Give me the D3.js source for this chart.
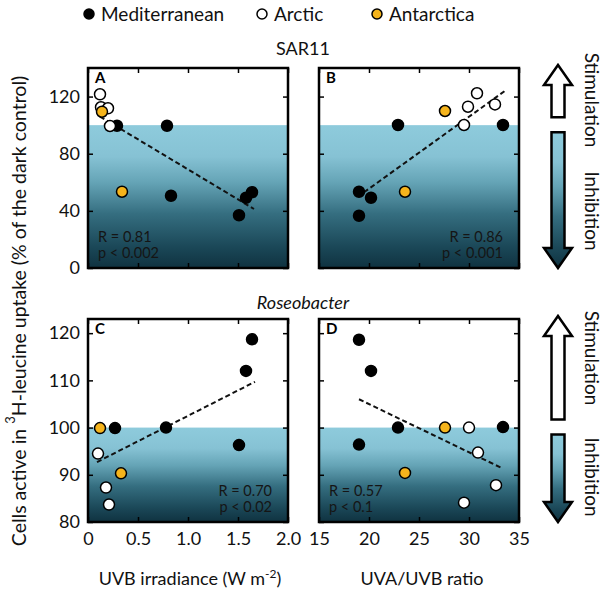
<!DOCTYPE html>
<html>
<head>
<meta charset="utf-8" />
<title>SAR11 / Roseobacter UV response</title>
<script src="https://d3js.org/d3.v7.min.js"></script>
<style>
  body { margin: 0; background: #fff; }
  svg { font-family: Lato, "Open Sans", sans-serif; }
  .tick text { font-size: 18px; fill: #111; }
</style>
</head>
<body>
<svg id="chart" width="611" height="598"></svg>
<script>
// groups in the legend
var groups = ["Mediterranean", "Arctic", "Antarctica"];

// SAR11 vs UVB irradiance
var panelA = [
  {g: "Mediterranean", x: 0.29, y: 99.6},
  {g: "Mediterranean", x: 0.79, y: 99.6},
  {g: "Mediterranean", x: 0.83, y: 50.6},
  {g: "Mediterranean", x: 1.51, y: 36.9},
  {g: "Mediterranean", x: 1.58, y: 49.2},
  {g: "Mediterranean", x: 1.64, y: 53.0},
  {g: "Arctic", x: 0.12, y: 121.6},
  {g: "Arctic", x: 0.13, y: 112.5},
  {g: "Arctic", x: 0.20, y: 111.8},
  {g: "Arctic", x: 0.22, y: 99.4},
  {g: "Antarctica", x: 0.14, y: 109.4},
  {g: "Antarctica", x: 0.34, y: 53.4}
];
// SAR11 vs UVA/UVB ratio
var panelB = [
  {g: "Mediterranean", x: 22.9, y: 100.1},
  {g: "Mediterranean", x: 19.0, y: 53.4},
  {g: "Mediterranean", x: 20.2, y: 49.2},
  {g: "Mediterranean", x: 19.0, y: 36.6},
  {g: "Mediterranean", x: 33.4, y: 100.1},
  {g: "Arctic", x: 30.8, y: 122.3},
  {g: "Arctic", x: 29.9, y: 112.9},
  {g: "Arctic", x: 29.5, y: 100.1},
  {g: "Arctic", x: 32.6, y: 114.5},
  {g: "Antarctica", x: 27.6, y: 109.9},
  {g: "Antarctica", x: 23.6, y: 53.4}
];
// Roseobacter vs UVB irradiance
var panelC = [
  {g: "Mediterranean", x: 1.64, y: 118.7},
  {g: "Mediterranean", x: 1.58, y: 112.0},
  {g: "Mediterranean", x: 1.51, y: 96.3},
  {g: "Mediterranean", x: 0.78, y: 100.0},
  {g: "Mediterranean", x: 0.27, y: 99.9},
  {g: "Arctic", x: 0.10, y: 94.5},
  {g: "Arctic", x: 0.18, y: 87.3},
  {g: "Arctic", x: 0.21, y: 83.7},
  {g: "Antarctica", x: 0.12, y: 99.9},
  {g: "Antarctica", x: 0.33, y: 90.3}
];
// Roseobacter vs UVA/UVB ratio
var panelD = [
  {g: "Mediterranean", x: 19.0, y: 118.6},
  {g: "Mediterranean", x: 20.2, y: 112.0},
  {g: "Mediterranean", x: 22.9, y: 100.0},
  {g: "Mediterranean", x: 19.0, y: 96.4},
  {g: "Mediterranean", x: 33.4, y: 100.1},
  {g: "Arctic", x: 30.0, y: 100.0},
  {g: "Arctic", x: 30.9, y: 94.7},
  {g: "Arctic", x: 29.5, y: 84.1},
  {g: "Arctic", x: 32.7, y: 87.8},
  {g: "Antarctica", x: 27.6, y: 100.0},
  {g: "Antarctica", x: 23.6, y: 90.4}
];

// regression line end points
var trendA = [[0.12, 106.0], [1.66, 41.3]];
var trendB = [[19.5, 53.0], [33.6, 124.0]];
var trendC = [[0.09, 92.7], [1.67, 109.7]];
var trendD = [[19.0, 106.0], [33.4, 91.3]];

var statsA = ["R = 0.81", "p < 0.002"];
var statsB = ["R = 0.86", "p < 0.001"];
var statsC = ["R = 0.70", "p < 0.02"];
var statsD = ["R = 0.57", "p < 0.1"];

// ticks
var uvbTicks = [0, 0.5, 1.0, 1.5, 2.0];
var ratioTicks = [15, 20, 25, 30, 35];
var sarTicks = [0, 40, 80, 120];
var roseoTicks = [80, 90, 100, 110, 120];

var svg = d3.select("#chart");

var fill = d3.scaleOrdinal().domain(groups).range(["#000", "#fff", "#f5b41c"]);

// gradient for the inhibition zone
var defs = svg.append("defs");
var grad = defs.append("linearGradient").attr("id", "shade")
  .attr("x1", 0).attr("y1", 0).attr("x2", 0).attr("y2", 1);
[[0, "#8ecbdc"], [0.22, "#86c2d4"], [0.4, "#65a4b6"], [0.62, "#356e80"], [0.85, "#1b4858"], [1, "#0f3240"]]
  .forEach(function(s) {
    grad.append("stop").attr("offset", s[0]).attr("stop-color", s[1]);
  });

var panels = [
  {id: "A", x0: 88, y0: 68, w: 200, h: 200, xd: [0, 2], yd: [0, 140], xt: uvbTicks, yt: sarTicks,
   data: panelA, trend: trendA, stats: statsA, statsLeft: true, left: true, bottom: false},
  {id: "B", x0: 319, y0: 68, w: 200, h: 200, xd: [15, 35], yd: [0, 140], xt: ratioTicks, yt: sarTicks,
   data: panelB, trend: trendB, stats: statsB, statsLeft: false, left: false, bottom: false},
  {id: "C", x0: 88, y0: 319, w: 200, h: 203, xd: [0, 2], yd: [80, 123], xt: uvbTicks, yt: roseoTicks,
   data: panelC, trend: trendC, stats: statsC, statsLeft: false, left: true, bottom: true},
  {id: "D", x0: 319, y0: 319, w: 200, h: 203, xd: [15, 35], yd: [80, 123], xt: ratioTicks, yt: roseoTicks,
   data: panelD, trend: trendD, stats: statsD, statsLeft: true, left: false, bottom: true}
];

panels.forEach(function(p) {
  var x = d3.scaleLinear().domain(p.xd).range([p.x0, p.x0 + p.w]);
  var y = d3.scaleLinear().domain(p.yd).range([p.y0 + p.h, p.y0]);
  p.x = x; p.y = y;
  var g = svg.append("g");

  // shaded zone under 100 %
  g.append("rect")
    .attr("x", p.x0).attr("y", y(100))
    .attr("width", p.w).attr("height", p.y0 + p.h - y(100))
    .attr("fill", "url(#shade)");

  g.append("path")
    .attr("d", d3.line().x(function(d) { return x(d[0]); }).y(function(d) { return y(d[1]); })(p.trend))
    .attr("fill", "none").attr("stroke", "#111")
    .attr("stroke-width", 2).attr("stroke-dasharray", "5,3");

  g.selectAll("circle").data(p.data).enter().append("circle")
    .attr("cx", function(d) { return x(d.x); })
    .attr("cy", function(d) { return y(d.y); })
    .attr("r", 5.5)
    .attr("fill", function(d) { return fill(d.g); })
    .attr("stroke", "#000").attr("stroke-width", 1.5);

  // ticks on all four sides, pointing inward
  var fmt = function(d) { return p.xd[0] === 0 ? (d === 0 ? "0" : d3.format(".1f")(d)) : d; };
  g.append("g").attr("transform", "translate(0," + (p.y0 + p.h) + ")")
    .call(d3.axisBottom(x).tickValues(p.xt).tickSize(-5).tickSizeOuter(0).tickPadding(10)
      .tickFormat(p.bottom ? fmt : ""));
  g.append("g").attr("transform", "translate(0," + p.y0 + ")")
    .call(d3.axisTop(x).tickValues(p.xt).tickSize(-5).tickSizeOuter(0).tickFormat(""));
  g.append("g").attr("transform", "translate(" + p.x0 + ",0)")
    .call(d3.axisLeft(y).tickValues(p.yt).tickSize(-5).tickSizeOuter(0).tickPadding(8)
      .tickFormat(p.left ? d3.format("d") : ""));
  g.append("g").attr("transform", "translate(" + (p.x0 + p.w) + ",0)")
    .call(d3.axisRight(y).tickValues(p.yt).tickSize(-5).tickSizeOuter(0).tickFormat(""));
  g.selectAll(".domain").remove();
  g.selectAll(".tick line").attr("stroke", "#000").attr("stroke-width", 1.5);
  g.selectAll(".tick text").style("font-family", "Lato, sans-serif");

  g.append("rect")
    .attr("x", p.x0).attr("y", p.y0).attr("width", p.w).attr("height", p.h)
    .attr("fill", "none").attr("stroke", "#000").attr("stroke-width", 2.5);

  g.append("text")
    .attr("x", p.x0 + 7).attr("y", p.y0 + 15)
    .attr("font-size", 15).attr("font-weight", "bold")
    .text(p.id);

  g.selectAll("text.stat").data(p.stats).enter().append("text")
    .attr("class", "stat")
    .attr("x", p.statsLeft ? p.x0 + 10 : p.x0 + p.w - 16)
    .attr("y", function(d, i) { return p.y0 + p.h - 26 + i * 16; })
    .attr("text-anchor", p.statsLeft ? "start" : "end")
    .attr("font-size", 14.5).attr("fill", "#151515")
    .text(function(d) { return d; });
});

// legend
var legX = [89, 262, 377];
groups.forEach(function(gname, i) {
  svg.append("circle").attr("cx", legX[i]).attr("cy", 14).attr("r", 5)
    .attr("fill", fill(gname)).attr("stroke", "#000").attr("stroke-width", 1.5);
  svg.append("text").attr("x", legX[i] + 12).attr("y", 21)
    .attr("font-size", 19).attr("fill", "#111").text(gname);
});

svg.append("text").attr("x", 303).attr("y", 55).attr("text-anchor", "middle")
  .attr("font-size", 18).attr("fill", "#111").text("SAR11");
svg.append("text").attr("x", 303).attr("y", 309).attr("text-anchor", "middle")
  .attr("font-size", 18).attr("font-style", "italic").attr("fill", "#111").text("Roseobacter");

// y label
var yl = svg.append("text")
  .attr("transform", "translate(18,311) rotate(-90)")
  .attr("text-anchor", "middle").attr("dominant-baseline", "central")
  .attr("font-size", 19.5).attr("fill", "#111");
yl.append("tspan").text("Cells active in ");
yl.append("tspan").attr("baseline-shift", "super").attr("font-size", 13).text("3");
yl.append("tspan").text("H-leucine uptake (% of the dark control)");

// x labels
var xl = svg.append("text").attr("x", 190).attr("y", 585).attr("text-anchor", "middle")
  .attr("font-size", 18).attr("fill", "#111");
xl.append("tspan").text("UVB irradiance (W m");
xl.append("tspan").attr("baseline-shift", "super").attr("font-size", 12).text("-2");
xl.append("tspan").text(")");
svg.append("text").attr("x", 422).attr("y", 585).attr("text-anchor", "middle")
  .attr("font-size", 18).attr("fill", "#111").text("UVA/UVB ratio");

// stimulation / inhibition arrows beside each row
function arrowPath(cx, tip, end, up) {
  var hw = 14, sw = 6.5, hl = 20 * (up ? 1 : -1);
  var b = tip + hl;
  return "M" + cx + "," + tip + "L" + (cx + hw) + "," + b + "L" + (cx + sw) + "," + b +
    "L" + (cx + sw) + "," + end + "L" + (cx - sw) + "," + end + "L" + (cx - sw) + "," + b +
    "L" + (cx - hw) + "," + b + "Z";
}
var stimY = [100, 358];
var inhibY = [211, 477];
[panels[1], panels[3]].forEach(function(p, i) {
  var y100 = p.y(100), top = p.y0 - 3, bot = p.y0 + p.h;
  svg.append("path").attr("d", arrowPath(558, top, y100 - 8, true))
    .attr("fill", "#fff").attr("stroke", "#000").attr("stroke-width", 2.5);
  svg.append("path").attr("d", arrowPath(558, bot, y100 + 7, false))
    .attr("fill", "url(#shade)").attr("stroke", "#000").attr("stroke-width", 2.5);
  svg.append("text").attr("transform", "translate(592," + stimY[i] + ") rotate(90)")
    .attr("text-anchor", "middle").attr("dominant-baseline", "central")
    .attr("font-size", 19).attr("fill", "#111").text("Stimulation");
  svg.append("text").attr("transform", "translate(592," + inhibY[i] + ") rotate(90)")
    .attr("text-anchor", "middle").attr("dominant-baseline", "central")
    .attr("font-size", 19).attr("fill", "#111").text("Inhibition");
});
</script>
</body>
</html>
